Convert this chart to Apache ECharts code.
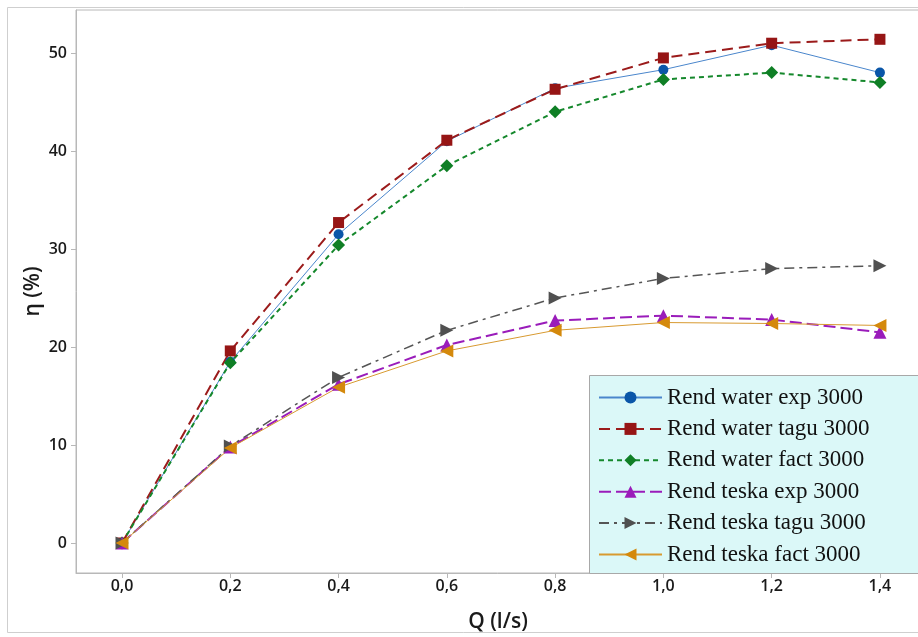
<!DOCTYPE html>
<html><head><meta charset="utf-8">
<script src="https://cdn.jsdelivr.net/npm/echarts@6/dist/echarts.min.js"></script>
<style>html,body{margin:0;padding:0;background:#fff}#c{width:918px;height:637px}</style>
</head><body><div id="c"></div>
<script>
var xValues = [0, 0.2, 0.4, 0.6, 0.8, 1.0, 1.2, 1.4];
var waterExp  = [0, 18.5, 31.5, 41.0, 46.4, 48.3, 50.8, 48.0];
var waterTagu = [0, 19.6, 32.7, 41.1, 46.3, 49.5, 51.0, 51.4];
var waterFact = [0, 18.4, 30.4, 38.5, 44.0, 47.3, 48.0, 47.0];
var teskaExp  = [0, 9.8, 16.2, 20.2, 22.7, 23.2, 22.8, 21.5];
var teskaTagu = [0, 9.9, 16.9, 21.7, 25.0, 27.0, 28.0, 28.3];
var teskaFact = [0, 9.7, 15.9, 19.6, 21.7, 22.5, 22.4, 22.2];
var seriesNames = ['Rend water exp 3000','Rend water tagu 3000','Rend water fact 3000','Rend teska exp 3000','Rend teska tagu 3000','Rend teska fact 3000'];
var xTicks = [0, 0.2, 0.4, 0.6, 0.8, 1.0, 1.2, 1.4];
var yTicks = [0, 10, 20, 30, 40, 50];

function pairs(ys){ return xValues.map(function(x,i){ return [x, ys[i]]; }); }

var chart = echarts.init(document.getElementById('c'), null, {renderer:'canvas'});
var tickFont = {fontFamily:'Open Sans', fontSize:16, fontWeight:600, color:'#1a1a1a'};
var axisGrey = '#b8b8b8';

function mk(name, data, color, lineColor, symbol, size, rot, ltype, lw){
  return {
    name: name, type:'line', data: pairs(data),
    symbol: symbol, symbolSize: size, symbolRotate: rot,
    itemStyle:{color: color},
    lineStyle:{color: lineColor, type: ltype, width: lw},
    emphasis:{disabled:true}, animation:false
  };
}

chart.setOption({
  animation:false,
  graphic:[
    {type:'rect', shape:{x:7.5,y:7.5,width:920,height:625}, style:{fill:null, stroke:'#cfcfcf', lineWidth:1}, z:-10},
    {type:'rect', shape:{x:589.5,y:375.5,width:340,height:198}, style:{fill:'#dbf8f8', stroke:'#a8a8a8', lineWidth:1}, z:10}
  ],
  grid:{left:76, top:10, right:-2, bottom:64, outerBoundsMode:'none', containLabel:false, show:true, borderColor:axisGrey, borderWidth:1, backgroundColor:'transparent'},
  xAxis:{
    type:'value', min:-0.085, max:1.474,
    name:'Q (l/s)', nameLocation:'middle', nameGap:39, nameMoveOverlap:false,
    nameTextStyle:{fontFamily:'Open Sans', fontSize:21, fontWeight:600, color:'#1a1a1a'},
    axisLine:{show:true, onZero:false, lineStyle:{color:axisGrey}},
    axisTick:{show:true, length:5, lineStyle:{color:axisGrey}, customValues:xTicks},
    axisLabel:Object.assign({margin:5, customValues:xTicks, formatter:function(v){return v.toFixed(1).replace('.',',');}}, tickFont),
    splitLine:{show:false}
  },
  yAxis:{
    type:'value', min:-3.06, max:54.39,
    name:'η (%)', nameLocation:'middle', nameGap:32, nameRotate:90, nameMoveOverlap:false,
    nameTextStyle:{fontFamily:'Open Sans', fontSize:21, fontWeight:600, color:'#1a1a1a'},
    axisLine:{show:true, onZero:false, lineStyle:{color:axisGrey}},
    axisTick:{show:true, length:5, lineStyle:{color:axisGrey}, customValues:yTicks},
    axisLabel:Object.assign({margin:9, customValues:yTicks}, tickFont),
    splitLine:{show:false}
  },
  legend:{
    orient:'vertical', left:598, top:386, padding:0, itemGap:8.4,
    itemWidth:63, itemHeight:15, z:20,
    textStyle:{fontFamily:'Liberation Serif', fontSize:23, color:'#111'},
    data: seriesNames
  },
  series:[
    mk(seriesNames[0], waterExp, '#0a56a8', '#4a86cc', 'circle', 10, 0, 'solid', 1),
    mk(seriesNames[1], waterTagu, '#961515', '#9b1b1b', 'rect', 11, 0, [11,6], 2),
    mk(seriesNames[2], waterFact, '#0f7f25', '#15882c', 'diamond', 13, 0, [5,4], 2),
    mk(seriesNames[3], teskaExp, '#9a1cba', '#9a1cba', 'triangle', 13, 0, [12,5], 2),
    mk(seriesNames[4], teskaTagu, '#505050', '#555555', 'triangle', 13, -90, [10,5,3,5], 1.5),
    mk(seriesNames[5], teskaFact, '#d4890c', '#d89a30', 'triangle', 13, 90, 'solid', 1)
  ]
});
</script></body></html>
